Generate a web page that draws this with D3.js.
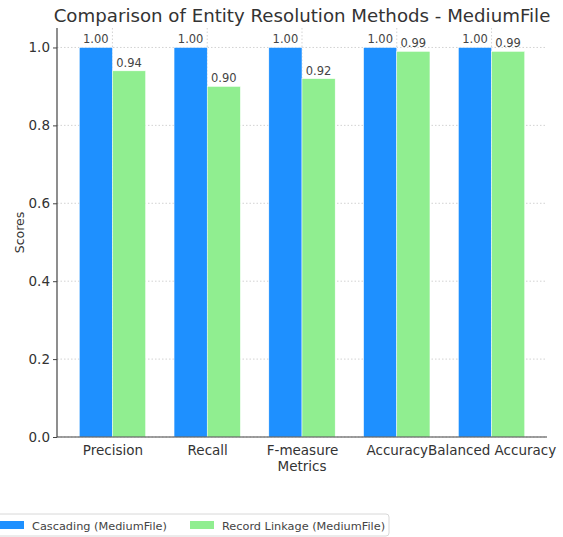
<!DOCTYPE html>
<html>
<head>
<meta charset="utf-8">
<script src="https://cdn.jsdelivr.net/npm/d3@7"></script>
<style>
  html, body { margin: 0; padding: 0; background: #fff; }
  svg { display: block; font-family: "DejaVu Sans", sans-serif; }
</style>
</head>
<body>
<svg id="chart" width="563" height="537"></svg>
<script>
// Metric names on the x axis
const metrics = ["Precision", "Recall", "F-measure", "Accuracy", "Balanced Accuracy"];
// Scores for each method
const cascadingScores = [1.00, 1.00, 1.00, 1.00, 1.00];
const recordLinkageScores = [0.94, 0.90, 0.92, 0.99, 0.99];
// Series names and y tick values
const seriesNames = ["Cascading (MediumFile)", "Record Linkage (MediumFile)"];
const yTicks = [0.0, 0.2, 0.4, 0.6, 0.8, 1.0];

const colors = ["#1E90FF", "#90EE90"];
const textColor = "#333";

const svg = d3.select("#chart");
const margin = { left: 57, right: 16, top: 28, bottom: 100 };
const W = 563, H = 537;
const plotW = W - margin.left - margin.right;
const plotH = H - margin.top - margin.bottom;

const g = svg.append("g").attr("transform", `translate(${margin.left},${margin.top})`);

// x is a continuous index scale, like a grouped bar layout with width 0.35 per bar
const barW = 0.35;
const x = d3.scaleLinear().domain([-0.585, metrics.length - 1 + 0.585]).range([0, plotW]);
const y = d3.scaleLinear().domain([0, 1.05]).range([plotH, 0]);

// grid lines
g.append("g").selectAll("line.hgrid").data(yTicks).join("line")
  .attr("x1", 0).attr("x2", plotW)
  .attr("y1", d => y(d)).attr("y2", d => y(d))
  .attr("stroke", "#c8c8c8").attr("stroke-width", 0.8).attr("stroke-dasharray", "1.5,2");
g.append("g").selectAll("line.vgrid").data(metrics.map((_, i) => i)).join("line")
  .attr("x1", d => x(d)).attr("x2", d => x(d))
  .attr("y1", 0).attr("y2", plotH)
  .attr("stroke", "#c8c8c8").attr("stroke-width", 0.8).attr("stroke-dasharray", "1.5,2");

// bars
const series = [cascadingScores, recordLinkageScores];
series.forEach((vals, s) => {
  const offset = s === 0 ? -barW : 0;
  g.append("g").selectAll("rect").data(vals).join("rect")
    .attr("x", (d, i) => x(i + offset))
    .attr("width", x(barW) - x(0))
    .attr("y", d => y(d))
    .attr("height", d => y(0) - y(d))
    .attr("fill", colors[s])
    .attr("stroke", "#fff").attr("stroke-width", 0.5);
  g.append("g").selectAll("text").data(vals).join("text")
    .attr("x", (d, i) => x(i + offset + barW / 2))
    .attr("y", d => y(d) - 4)
    .attr("text-anchor", "middle")
    .attr("font-size", 11.5)
    .attr("fill", "#444")
    .text(d => d.toFixed(2));
});

// axes
const yAxis = d3.axisLeft(y).tickValues(yTicks).tickFormat(d3.format(".1f")).tickSize(4).tickPadding(3);
const yG = g.append("g").call(yAxis);
const xAxis = d3.axisBottom(x).tickValues(metrics.map((_, i) => i)).tickFormat(i => metrics[i]).tickSize(0).tickPadding(8);
const xG = g.append("g").attr("transform", `translate(0,${plotH})`).call(xAxis);
[yG, xG].forEach(a => {
  a.select(".domain").attr("stroke", "#444").attr("stroke-width", 1.2);
  a.selectAll(".tick line").attr("stroke", "#444");
  a.selectAll(".tick text").attr("fill", textColor).attr("font-size", 13.5)
    .attr("font-family", "DejaVu Sans, sans-serif");
});
// plain spines without end caps
yG.select(".domain").attr("d", `M0,${plotH}V0`);
xG.select(".domain").attr("d", `M0,0H${plotW}`);

// axis titles
g.append("text")
  .attr("x", x(2)).attr("y", plotH + 34)
  .attr("text-anchor", "middle").attr("font-size", 13.5).attr("fill", textColor)
  .text("Metrics");
svg.append("text")
  .attr("transform", `translate(24,${margin.top + plotH / 2}) rotate(-90)`)
  .attr("text-anchor", "middle").attr("font-size", 12.5).attr("fill", textColor)
  .text("Scores");

// title
svg.append("text")
  .attr("x", margin.left + plotW / 2).attr("y", 22)
  .attr("text-anchor", "middle").attr("font-size", 18.2).attr("fill", textColor)
  .text("Comparison of Entity Resolution Methods - MediumFile");

// legend
const leg = svg.append("g").attr("transform", "translate(0,514)");
leg.append("rect").attr("x", -4).attr("y", 0).attr("width", 393).attr("height", 22)
  .attr("rx", 3).attr("fill", "#fff").attr("stroke", "#d8d8d8");
const legX = [0, 190];
seriesNames.forEach((name, s) => {
  leg.append("rect").attr("x", legX[s]).attr("y", 7).attr("width", 24).attr("height", 8)
    .attr("fill", colors[s]);
  leg.append("text").attr("x", legX[s] + 32).attr("y", 15.5).attr("font-size", 11.3)
    .attr("fill", "#444").text(name);
});
</script>
</body>
</html>
